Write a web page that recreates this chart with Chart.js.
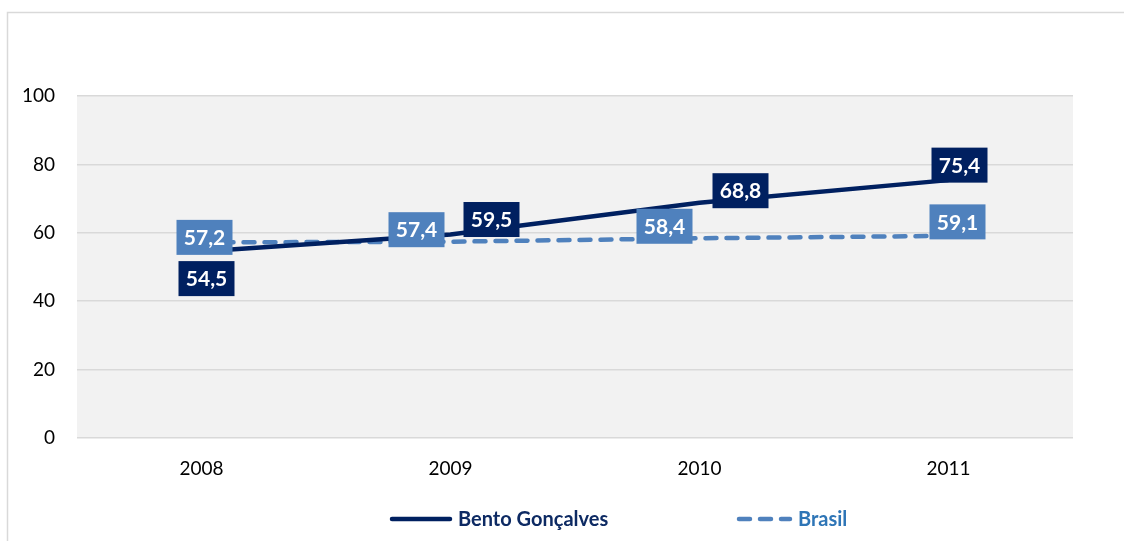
<!DOCTYPE html>
<html>
<head>
<meta charset="utf-8">
<script src="https://cdn.jsdelivr.net/npm/chart.js@4.4.0/dist/chart.umd.min.js"></script>
<style>
  html, body { margin: 0; padding: 0; background: #fff; }
  #grafico { display: block; }
</style>
</head>
<body>
<canvas id="grafico" width="1124" height="541"></canvas>
<script>
var anni = ['2008', '2009', '2010', '2011'];
var bentoGoncalves = [54.5, 59.5, 68.8, 75.4];
var brasil = [57.2, 57.4, 58.4, 59.1];
var yTicks = [0, 20, 40, 60, 80, 100];

// spostamento delle etichette rispetto al punto (come nel grafico originale)
var offsetBento = [[5, 27], [41, -15], [41, -12], [11, -15]];
var offsetBrasil = [[3, -5], [-34, -12], [-35, -12], [9, -14]];

var coloreBento = '#002060';
var coloreBrasil = '#4f81bd';
var fontBase = 'Lato, "Open Sans", sans-serif';

function formatta(v) {
  return v.toFixed(1).replace('.', ',');
}

var sfondoPlugin = {
  id: 'sfondo',
  beforeDraw: function (chart) {
    var ctx = chart.ctx;
    var a = chart.chartArea;
    ctx.save();
    ctx.fillStyle = '#fff';
    ctx.fillRect(0, 0, chart.width, chart.height);
    // bordo esterno
    ctx.strokeStyle = '#d9d9d9';
    ctx.lineWidth = 1.5;
    ctx.beginPath();
    ctx.moveTo(7.5, chart.height);
    ctx.lineTo(7.5, 12.5);
    ctx.lineTo(chart.width, 12.5);
    ctx.stroke();
    ctx.fillStyle = '#f2f2f2';
    ctx.fillRect(a.left, a.top, a.right - a.left, a.bottom - a.top);
    ctx.restore();
  }
};

var etichettePlugin = {
  id: 'etichette',
  afterDatasetsDraw: function (chart) {
    var ctx = chart.ctx;
    var offsets = [offsetBento, offsetBrasil];
    ctx.save();
    ctx.font = 'bold 21px ' + fontBase;
    ctx.textAlign = 'center';
    ctx.textBaseline = 'middle';
    for (var d = chart.data.datasets.length - 1; d >= 0; d--) {
      var ds = chart.data.datasets[d];
      var meta = chart.getDatasetMeta(d);
      meta.data.forEach(function (pt, i) {
        var cx = pt.x + offsets[d][i][0];
        var cy = pt.y + offsets[d][i][1];
        ctx.fillStyle = ds.borderColor;
        ctx.fillRect(cx - 28, cy - 17.5, 56, 35);
        ctx.fillStyle = '#fff';
        ctx.fillText(formatta(ds.data[i]), cx, cy + 1);
      });
    }
    ctx.restore();
  }
};

var legendaPlugin = {
  id: 'legenda',
  afterDraw: function (chart) {
    var ctx = chart.ctx;
    var voci = [
      { x: 390, w: 62, testo: '#0d2a63' },
      { x: 737, w: 55, testo: '#2e75b6' }
    ];
    var y = 519;
    ctx.save();
    chart.data.datasets.forEach(function (ds, i) {
      var v = voci[i];
      ctx.strokeStyle = ds.borderColor;
      ctx.lineWidth = 4.5;
      ctx.lineCap = 'round';
      ctx.setLineDash(ds.borderDash || []);
      ctx.beginPath();
      ctx.moveTo(v.x + 2, y);
      ctx.lineTo(v.x + v.w - 2, y);
      ctx.stroke();
      ctx.setLineDash([]);
      ctx.font = 'bold 20px ' + fontBase;
      ctx.fillStyle = v.testo;
      ctx.textAlign = 'left';
      ctx.textBaseline = 'middle';
      ctx.fillText(ds.label, v.x + v.w + 6, y + 1);
    });
    ctx.restore();
  }
};

var ctx = document.getElementById('grafico').getContext('2d');

var grafico = new Chart(ctx, {
  type: 'line',
  data: {
    labels: anni,
    datasets: [{
      label: 'Bento Gonçalves',
      data: bentoGoncalves,
      borderColor: coloreBento,
      backgroundColor: coloreBento,
      borderWidth: 4.5,
      pointRadius: 0,
      tension: 0
    }, {
      label: 'Brasil',
      data: brasil,
      borderColor: coloreBrasil,
      backgroundColor: coloreBrasil,
      borderWidth: 4.5,
      borderDash: [11, 10],
      borderCapStyle: 'round',
      pointRadius: 0,
      tension: 0
    }]
  },
  options: {
    responsive: false,
    animation: false,
    layout: {
      padding: { left: 0, right: 51, top: 96, bottom: 0 }
    },
    plugins: {
      legend: { display: false },
      tooltip: { enabled: false }
    },
    scales: {
      x: {
        offset: true,
        grid: { display: false, drawTicks: false },
        border: { display: false },
        ticks: {
          padding: 19,
          color: '#000',
          font: { family: fontBase, size: 19 }
        },
        afterFit: function (scale) { scale.height = 541 - 438; }
      },
      y: {
        min: 0,
        max: 100,
        afterBuildTicks: function (scale) {
          scale.ticks = yTicks.map(function (v) { return { value: v }; });
        },
        grid: { color: '#d9d9d9', lineWidth: 1.5, drawTicks: false },
        border: { display: false },
        ticks: {
          padding: 22,
          color: '#000',
          font: { family: fontBase, size: 19 }
        },
        afterFit: function (scale) { scale.width = 77; }
      }
    }
  },
  plugins: [sfondoPlugin, etichettePlugin, legendaPlugin]
});
</script>
</body>
</html>
